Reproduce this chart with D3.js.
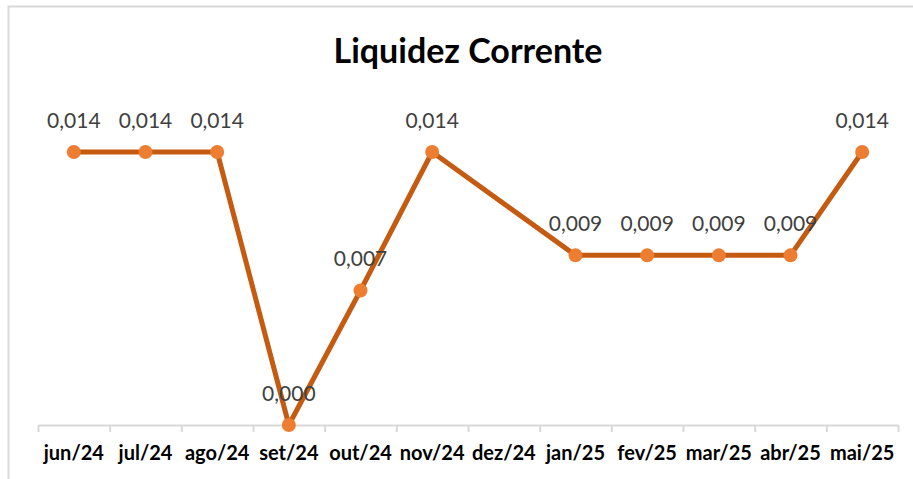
<!DOCTYPE html>
<html>
<head>
<meta charset="utf-8">
<script src="https://cdn.jsdelivr.net/npm/d3@7"></script>
<style>
  body { margin: 0; background: #fff; }
  svg { display: block; }
</style>
</head>
<body>
<script>
const meses = ['jun/24', 'jul/24', 'ago/24', 'set/24', 'out/24', 'nov/24', 'dez/24', 'jan/25', 'fev/25', 'mar/25', 'abr/25', 'mai/25'];
const liquidez = [0.014, 0.014, 0.014, 0.0, 0.0069, 0.014, null, 0.0087, 0.0087, 0.0087, 0.0087, 0.014];
const yMax = 0.016;

const width = 913;
const height = 479;
const plot = { left: 38, right: 898, top: 113, bottom: 425 };

const svg = d3.select('body').append('svg')
  .attr('width', width)
  .attr('height', height);

// chart frame (only top and left edges show)
svg.append('rect')
  .attr('x', 8.5)
  .attr('y', 6.5)
  .attr('width', 1000)
  .attr('height', 600)
  .style('fill', 'none')
  .style('stroke', '#d9d9d9')
  .style('stroke-width', 2);

svg.append('text')
  .attr('x', 468)
  .attr('y', 63)
  .attr('text-anchor', 'middle')
  .attr('textLength', 269)
  .attr('lengthAdjust', 'spacingAndGlyphs')
  .style('font-family', 'Lato, sans-serif')
  .style('font-weight', 'bold')
  .style('font-size', '34px')
  .style('fill', '#000')
  .text('Liquidez Corrente');

const x = d3.scaleBand()
  .domain(meses)
  .range([plot.left, plot.right]);

const y = d3.scaleLinear()
  .domain([0, yMax])
  .range([plot.bottom, plot.top]);

// category boundaries for tick marks
const idx = d3.scaleLinear()
  .domain([0, meses.length])
  .range([plot.left, plot.right]);

const tickAxis = svg.append('g')
  .attr('transform', `translate(0, ${plot.bottom})`)
  .call(d3.axisBottom(idx)
    .tickValues(d3.range(meses.length + 1))
    .tickFormat('')
    .tickSize(7)
    .tickSizeOuter(0));
tickAxis.select('.domain').style('stroke', '#d9d9d9').style('stroke-width', 2);
tickAxis.selectAll('.tick line').style('stroke', '#d9d9d9').style('stroke-width', 2);

const labelAxis = svg.append('g')
  .attr('transform', `translate(0, ${plot.bottom})`)
  .call(d3.axisBottom(x).tickSize(0).tickSizeOuter(0));
labelAxis.select('.domain').remove();
labelAxis.selectAll('text')
  .attr('y', 35)
  .attr('dy', 0)
  .style('font-family', 'Lato, sans-serif')
  .style('font-weight', 'bold')
  .style('font-size', '20px')
  .style('fill', '#000');

const data = meses.map((m, i) => ({ mes: m, v: liquidez[i] }))
  .filter(d => d.v != null);

const line = d3.line()
  .x(d => x(d.mes) + x.bandwidth() / 2)
  .y(d => y(d.v));

svg.append('path')
  .datum(data)
  .attr('d', line)
  .style('fill', 'none')
  .style('stroke', '#c55a11')
  .style('stroke-width', 5)
  .style('stroke-linejoin', 'round');

svg.selectAll('circle')
  .data(data)
  .enter()
  .append('circle')
  .attr('cx', d => x(d.mes) + x.bandwidth() / 2)
  .attr('cy', d => y(d.v))
  .attr('r', 7)
  .style('fill', '#ed7d31');

const fmt = d3.format('.3f');

svg.selectAll('.rotulo')
  .data(data)
  .enter()
  .append('text')
  .attr('class', 'rotulo')
  .attr('x', d => x(d.mes) + x.bandwidth() / 2)
  .attr('y', d => y(d.v) - 24)
  .attr('text-anchor', 'middle')
  .style('font-family', 'Lato, sans-serif')
  .style('font-size', '21px')
  .style('fill', '#404040')
  .text(d => fmt(d.v).replace('.', ','));
</script>
</body>
</html>
